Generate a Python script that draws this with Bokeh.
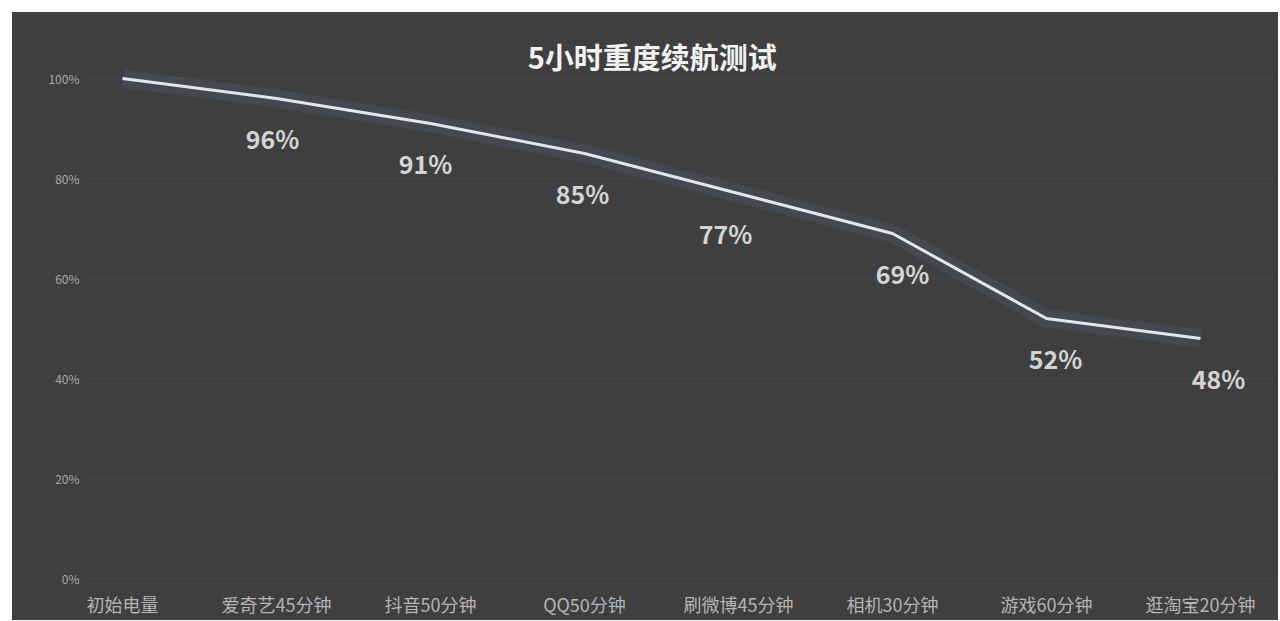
from bokeh.plotting import figure
from bokeh.models import Range1d, ColumnDataSource, LabelSet, Label, FixedTicker
from bokeh.core.properties import value
from bokeh.embed import file_html
from bokeh.resources import INLINE

categories = ["初始电量", "爱奇艺45分钟", "抖音50分钟", "QQ50分钟", "刷微博45分钟", "相机30分钟", "游戏60分钟", "逛淘宝20分钟"]
battery = [100, 96, 91, 85, 77, 69, 52, 48]
y_ticks = [0, 20, 40, 60, 80, 100]
title_text = "5小时重度续航测试"

BG = "#3f3f3f"
FONT = "Noto Sans CJK SC"

xs = list(range(len(categories)))

p = figure(width=1266, height=608, output_backend="svg", toolbar_location=None,
           x_range=Range1d(-0.2208, 7.474), y_range=Range1d(-0.4, 108),
           min_border_left=76, min_border_right=5, min_border_top=26, min_border_bottom=40,
           background_fill_color=None, border_fill_color=BG)
p.outline_line_color = None
p.margin = (12, 0, 0, 12)
p.styles = {"background-color": BG}

# axes
p.xaxis.ticker = FixedTicker(ticks=xs)
p.xaxis.major_label_overrides = {i: c for i, c in zip(xs, categories)}
p.xaxis.axis_line_color = None
p.xaxis.major_tick_line_color = None
p.xaxis.minor_tick_line_color = None
p.xaxis.major_label_text_color = "#b4b4b4"
p.xaxis.major_label_text_font = FONT
p.xaxis.major_label_text_font_size = "18px"
p.xaxis.major_label_standoff = 4

p.yaxis.ticker = FixedTicker(ticks=y_ticks)
p.yaxis.major_label_overrides = {t: f"{t}%" for t in y_ticks}
p.yaxis.axis_line_color = None
p.yaxis.major_tick_line_color = None
p.yaxis.minor_tick_line_color = None
p.yaxis.major_label_text_color = "#a8a8a8"
p.yaxis.major_label_text_font = FONT
p.yaxis.major_label_text_font_size = "12px"
p.yaxis.major_label_standoff = 3

p.xgrid.grid_line_color = None
p.ygrid.grid_line_color = "#474747"
p.ygrid.grid_line_width = 1

src = ColumnDataSource(dict(x=xs, y=battery))

# soft glow and line
p.line("x", "y", source=src, line_color="#5a7896", line_width=18, line_alpha=0.18)
p.line("x", "y", source=src, line_color="#e2e5f6", line_width=3)

# data labels (skip the starting 100%)
lab_src = ColumnDataSource(dict(x=xs[1:], y=battery[1:], label=[f"{v}%" for v in battery[1:]],
                                dx=[-4, -5, -2, -13, 10, 9, 18]))
labels = LabelSet(x="x", y="y", text="label", source=lab_src, x_offset="dx", y_offset=-39,
                  text_align="center", text_baseline="middle",
                  text_color="#d4d4d4", text_font=value(FONT), text_font_size=value("25px"),
                  text_font_style="bold")
p.add_layout(labels)

title = Label(x=3.44, y=104.6, text=title_text, text_align="center", text_baseline="middle",
              text_color="#f2f2f2", text_font=FONT, text_font_size="29px", text_font_style="bold")
p.add_layout(title)

open("out.html", "w").write(file_html(p, INLINE))
